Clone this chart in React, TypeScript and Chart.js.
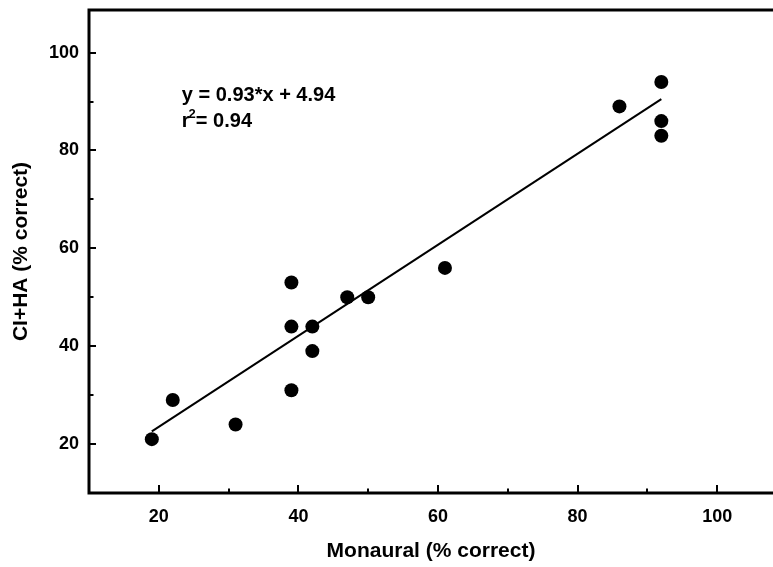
import React, { useEffect, useRef } from "react";
import { Chart, registerables } from "chart.js";

Chart.register(...registerables);

// ---- data ----
const monaural = [19, 22, 31, 39, 39, 39, 42, 42, 47, 50, 61, 86, 92, 92, 92];
const ciha = [21, 29, 24, 31, 44, 53, 44, 39, 50, 50, 56, 89, 94, 86, 83];
const fitSlope = 0.93;
const fitIntercept = 4.94;
const fitRangeX = [19, 92];
const xMajorTicks = [20, 40, 60, 80, 100];
const xMinorTicks = [30, 50, 70, 90];
const yMajorTicks = [20, 40, 60, 80, 100];
const yMinorTicks = [30, 50, 70, 90];
const xTitle = "Monaural (% correct)";
const yTitle = "CI+HA (% correct)";
const eqLine = "y = 0.93*x + 4.94";
const r2Value = "0.94";
const eqAnchor = { x: 23.3, y: 91.3 };

const FONT = '"Liberation Sans", Arial, Helvetica, sans-serif';

const framePlugin = {
  id: "frame",
  beforeDatasetsDraw(chart: any) {
    const { ctx, chartArea } = chart;
    const xs = chart.scales.x;
    const ys = chart.scales.y;
    const { left, right, top, bottom } = chartArea;
    ctx.save();
    ctx.strokeStyle = "#000";
    ctx.lineCap = "butt";
    ctx.lineWidth = 3;
    ctx.beginPath();
    ctx.moveTo(left, top - 1.5);
    ctx.lineTo(left, bottom + 1.5);
    ctx.moveTo(left - 1.5, bottom);
    ctx.lineTo(right, bottom);
    ctx.moveTo(left - 1.5, top);
    ctx.lineTo(right, top);
    ctx.stroke();
    ctx.lineWidth = 2;
    ctx.beginPath();
    xMajorTicks.forEach((v) => {
      const px = Math.round(xs.getPixelForValue(v));
      ctx.moveTo(px, bottom);
      ctx.lineTo(px, bottom - 8);
    });
    xMinorTicks.forEach((v) => {
      const px = Math.round(xs.getPixelForValue(v));
      ctx.moveTo(px, bottom);
      ctx.lineTo(px, bottom - 4.5);
    });
    yMajorTicks.forEach((v) => {
      const py = Math.round(ys.getPixelForValue(v));
      ctx.moveTo(left, py);
      ctx.lineTo(left + 7, py);
    });
    yMinorTicks.forEach((v) => {
      const py = Math.round(ys.getPixelForValue(v));
      ctx.moveTo(left, py);
      ctx.lineTo(left + 4.5, py);
    });
    ctx.stroke();
    ctx.restore();
  },
  afterDraw(chart: any) {
    const { ctx } = chart;
    const xs = chart.scales.x;
    const ys = chart.scales.y;
    const x0 = xs.getPixelForValue(eqAnchor.x);
    const y0 = ys.getPixelForValue(eqAnchor.y);
    ctx.save();
    ctx.fillStyle = "#000";
    ctx.textAlign = "left";
    ctx.textBaseline = "middle";
    ctx.font = `bold 20px ${FONT}`;
    ctx.fillText(eqLine, x0, y0);
    const y1 = y0 + 26;
    ctx.fillText("r", x0, y1);
    const rW = ctx.measureText("r").width;
    ctx.font = `bold 13px ${FONT}`;
    ctx.fillText("2", x0 + rW - 1, y1 - 7);
    const tW = ctx.measureText("2").width;
    ctx.font = `bold 20px ${FONT}`;
    ctx.fillText("= " + r2Value, x0 + rW - 1 + tW, y1);
    ctx.restore();
  },
};

export default function App() {
  const ref = useRef<HTMLCanvasElement | null>(null);
  useEffect(() => {
    if (!ref.current) return;
    const points = monaural.map((x, i) => ({ x, y: ciha[i] }));
    const fit = fitRangeX.map((x) => ({ x, y: fitSlope * x + fitIntercept }));
    const tickFont = { family: FONT, size: 18, weight: "bold" as const };
    const titleFont = { family: FONT, size: 21, weight: "bold" as const };
    const chart = new Chart(ref.current, {
      type: "scatter",
      data: {
        datasets: [
          {
            type: "line",
            data: fit,
            borderColor: "#000",
            borderWidth: 2,
            pointRadius: 0,
            fill: false,
            showLine: true,
          } as any,
          {
            data: points,
            pointRadius: 7,
            pointHoverRadius: 7,
            backgroundColor: "#000",
            borderWidth: 0,
          },
        ],
      },
      options: {
        animation: false,
        responsive: false,
        devicePixelRatio: 1,
        layout: { autoPadding: false, padding: { top: 10, right: 0, left: 0, bottom: 0 } },
        plugins: { legend: { display: false }, tooltip: { enabled: false } },
        scales: {
          x: {
            type: "linear",
            min: 10,
            max: 108,
            grid: { display: false, drawTicks: false },
            border: { display: false },
            afterBuildTicks: (s: any) => {
              s.ticks = xMajorTicks.map((v) => ({ value: v }));
            },
            afterFit: (s: any) => {
              s.height = 74;
              s.paddingLeft = 0;
              s.paddingRight = 0;
            },
            ticks: { color: "#000", font: tickFont, padding: 13, maxRotation: 0 },
            title: {
              display: true,
              text: xTitle,
              color: "#000",
              font: titleFont,
              padding: { top: 0, bottom: 3 },
            },
          },
          y: {
            type: "linear",
            min: 10,
            max: 108.7,
            grid: { display: false, drawTicks: false },
            border: { display: false },
            afterBuildTicks: (s: any) => {
              s.ticks = yMajorTicks.map((v) => ({ value: v }));
            },
            afterFit: (s: any) => {
              s.width = 89;
              s.paddingTop = 0;
              s.paddingBottom = 0;
            },
            ticks: { color: "#000", font: tickFont, padding: 10 },
            title: {
              display: true,
              text: yTitle,
              color: "#000",
              font: titleFont,
              padding: { top: 9, bottom: 0 },
            },
          },
        },
      },
      plugins: [framePlugin],
    });
    return () => chart.destroy();
  }, []);
  return (
    <div style={{ position: "fixed", left: 0, top: 0, width: 773, height: 567, background: "#fff" }}>
      <canvas ref={ref} width={773} height={567} />
    </div>
  );
}
